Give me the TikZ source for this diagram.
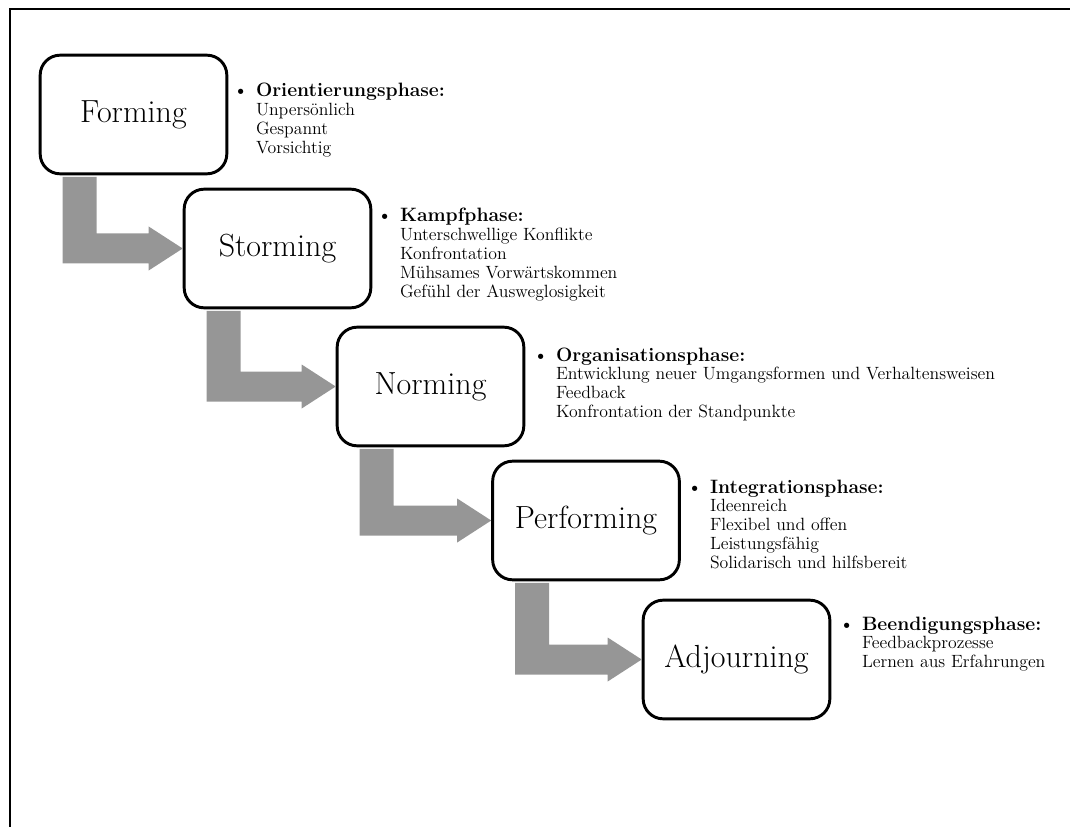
\documentclass[tikz,border=0pt]{standalone}
\usepackage{tikz}
\usetikzlibrary{calc}
\definecolor{stepgray}{RGB}{150,150,150}

\tikzset{
  phasebox/.style={draw=black, line width=2.2pt, rounded corners=15pt, fill=white,
    minimum width=140pt, minimum height=89pt, inner sep=0pt,
    font=\fontsize{24}{28}\selectfont},
  phasetext/.style={anchor=base west, inner sep=0pt, font=\fontsize{13.3}{14.2}\selectfont},
}
% gray bent arrow from one phase box to the next
\newcommand{\steparrow}[2]{%
  \fill [stepgray] ($(#1.south west)+(24,1.5)$) |- ($(#2.west)+(-34,15)$) -- ++(0,7) -- (#2.west)
    -- ($(#2.west)+(-34,-22)$) -- ++(0,7) -| ($(#1.south west)+(58,1.5)$) -- cycle;}
\newcommand{\phaselist}[2]{\begin{tabular}[t]{@{}l@{\hspace{6pt}}l@{}}\fontsize{14.5}{16}\selectfont\textbullet & \fontsize{14.5}{16}\selectfont\textbf{#1}\\ #2\end{tabular}}

\begin{document}
\begin{tikzpicture}[x=0.75pt,y=0.75pt,yscale=-1,xscale=1]
\useasboundingbox (0,0) rectangle (1070,827);

%Frame
\draw [line width=1.5pt] (10,827) -- (10,9) -- (1070,9) ;

%Phase boxes
\node (forming) [phasebox] at (133.5,114.5) {Forming};
\node (storming) [phasebox] at (277.5,248.5) {Storming};
\node (norming) [phasebox] at (430.5,386.5) {Norming};
\node (performing) [phasebox] at (586,520.5) {Performing};
\node (adjourning) [phasebox] at (736.5,659.5) {Adjourning};

%Arrows
\steparrow{forming}{storming}
\steparrow{storming}{norming}
\steparrow{norming}{performing}
\steparrow{performing}{adjourning}

% Text Node
\node (formingtext) [phasetext] at (233,97) {\phaselist{Orientierungsphase:}{& Unpersönlich\\ & Gespannt\\ & Vorsichtig}};
% Text Node
\node (stormingtext) [phasetext] at (377,222) {\phaselist{Kampfphase:}{& Unterschwellige Konflikte\\ & Konfrontation\\ & Mühsames Vorwärtskommen\\ & Gefühl der Ausweglosigkeit}};
% Text Node
\node (normingtext) [phasetext] at (533,361) {\phaselist{Organisationsphase:}{& Entwicklung neuer Umgangsformen und Verhaltensweisen\\ & Feedback\\ & Konfrontation der Standpunkte}};
% Text Node
\node (performingtext) [phasetext] at (687,493) {\phaselist{Integrationsphase:}{& Ideenreich\\ & Flexibel und offen\\ & Leistungsfähig\\ & Solidarisch und hilfsbereit}};
% Text Node
\node (adjourningtext) [phasetext] at (839,630) {\phaselist{Beendigungsphase:}{& Feedbackprozesse\\ & Lernen aus Erfahrungen}};

\end{tikzpicture}
\end{document}
